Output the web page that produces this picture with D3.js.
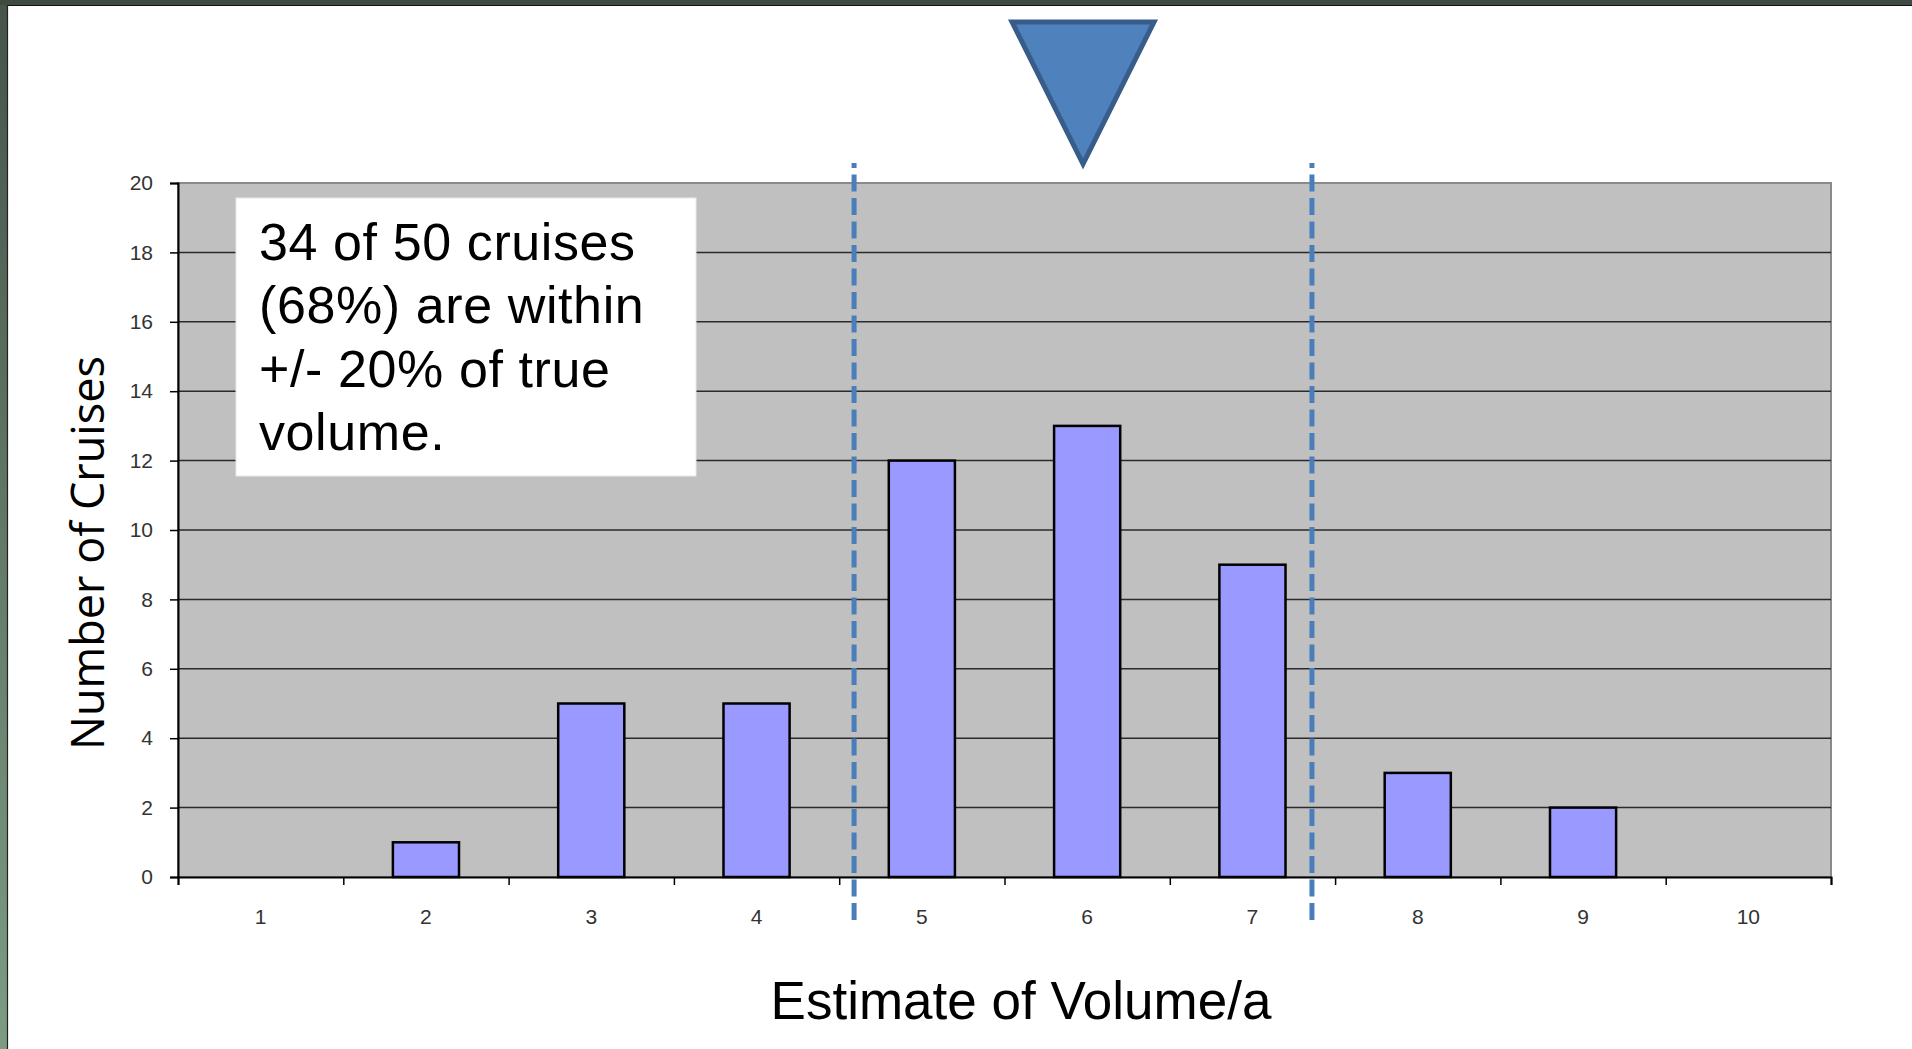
<!DOCTYPE html>
<html>
<head>
<meta charset="utf-8">
<script src="https://cdn.jsdelivr.net/npm/d3@7"></script>
<style>
  html, body { margin: 0; padding: 0; background: #fff; }
  svg { display: block; }
</style>
</head>
<body>
<div id="chart"></div>
<script>
// data
const categories = [1, 2, 3, 4, 5, 6, 7, 8, 9, 10];
const counts = [0, 1, 5, 5, 12, 13, 9, 3, 2, 0];
const yTicks = [0, 2, 4, 6, 8, 10, 12, 14, 16, 18, 20];
const rangeLines = [4.59, 7.36];   // +/- 20% limits, in axis units
const trueValue = 5.975;           // marker triangle
const noteLines = ["34 of 50 cruises", "(68%) are within", "+/- 20% of true", "volume."];

// constants
const width = 1912;
const height = 1049;
const plot = { left: 178, right: 1831, top: 183, bottom: 877 };

const svg = d3.select("#chart")
    .append("svg")
    .attr("width", width)
    .attr("height", height);

// slide frame
const defs = svg.append("defs");
const grad = defs.append("linearGradient")
    .attr("id", "leftband")
    .attr("x1", 0).attr("y1", 0).attr("x2", 0).attr("y2", 1);
grad.append("stop").attr("offset", "0%").attr("stop-color", "#46544a");
grad.append("stop").attr("offset", "100%").attr("stop-color", "#7d9c84");

svg.append("rect").attr("x", 0).attr("y", 0).attr("width", 8).attr("height", height)
    .attr("fill", "url(#leftband)");
svg.append("rect").attr("x", 0).attr("y", 0).attr("width", width).attr("height", 5)
    .attr("fill", "#3f4b41");
svg.append("line").attr("x1", 8).attr("x2", width).attr("y1", 5.5).attr("y2", 5.5)
    .attr("stroke", "#111").attr("stroke-width", 1.2);
svg.append("line").attr("x1", 7.5).attr("x2", 7.5).attr("y1", 5).attr("y2", height)
    .attr("stroke", "#222").attr("stroke-width", 1.2);

// scales
const xBand = d3.scaleBand()
    .domain(categories)
    .range([plot.left, plot.right])
    .paddingInner(0.6)
    .paddingOuter(0.3);

const xLin = d3.scaleLinear()
    .domain([0.5, 10.5])
    .range([plot.left, plot.right]);

const y = d3.scaleLinear()
    .domain([0, 20])
    .range([plot.bottom, plot.top]);

// plot area
svg.append("rect")
    .attr("x", plot.left).attr("y", plot.top)
    .attr("width", plot.right - plot.left).attr("height", plot.bottom - plot.top)
    .attr("fill", "#c0c0c0")
    .attr("stroke", "#8a8a8a")
    .attr("stroke-width", 2);

// gridlines
svg.append("g")
    .selectAll("line")
    .data(yTicks.filter(d => d > 0 && d < 20))
    .enter().append("line")
    .attr("x1", plot.left).attr("x2", plot.right)
    .attr("y1", d => y(d)).attr("y2", d => y(d))
    .attr("stroke", "#2a2a2a")
    .attr("stroke-width", 1.5);

// bars
svg.append("g")
    .selectAll("rect")
    .data(counts.map((c, i) => ({ cat: categories[i], count: c })).filter(d => d.count > 0))
    .enter().append("rect")
    .attr("x", d => xBand(d.cat))
    .attr("y", d => y(d.count))
    .attr("width", xBand.bandwidth())
    .attr("height", d => y(0) - y(d.count))
    .attr("fill", "#9999ff")
    .attr("stroke", "#000")
    .attr("stroke-width", 2.5);

// y axis
const yAxis = svg.append("g")
    .attr("transform", `translate(${plot.left},0)`)
    .call(d3.axisLeft(y).tickValues(yTicks).tickSize(8).tickPadding(17).tickFormat(d3.format("d")));
yAxis.select(".domain").attr("stroke", "#000").attr("stroke-width", 2);
yAxis.selectAll(".tick line").attr("stroke", "#000").attr("stroke-width", 1.5);
yAxis.selectAll(".tick text")
    .attr("font-family", "'Liberation Sans', Arial, sans-serif")
    .attr("font-size", 21)
    .attr("fill", "#333");

// x axis: ticks at category boundaries
const xAxis = svg.append("g")
    .attr("transform", `translate(0,${plot.bottom})`)
    .call(d3.axisBottom(xLin).tickValues(d3.range(0.5, 11, 1)).tickSize(8).tickFormat(""));
xAxis.select(".domain").attr("stroke", "#000").attr("stroke-width", 2);
xAxis.selectAll(".tick line").attr("stroke", "#000").attr("stroke-width", 1.5);

// x labels at category centers
const xLabels = svg.append("g")
    .attr("transform", `translate(0,${plot.bottom})`)
    .call(d3.axisBottom(xBand).tickSize(0).tickPadding(32));
xLabels.select(".domain").remove();
xLabels.selectAll(".tick text")
    .attr("font-family", "'Liberation Sans', Arial, sans-serif")
    .attr("font-size", 21)
    .attr("fill", "#333");

// dashed range lines
svg.append("g")
    .selectAll("line")
    .data(rangeLines)
    .enter().append("line")
    .attr("x1", d => xLin(d)).attr("x2", d => xLin(d))
    .attr("y1", 163).attr("y2", 921)
    .attr("stroke", "#4a7ebb")
    .attr("stroke-width", 5)
    .attr("stroke-dasharray", "17 6.5")
    .attr("stroke-dashoffset", 12);

// marker triangle
const tx = xLin(trueValue);
svg.append("path")
    .attr("d", `M${tx - 71},22 L${tx + 71},22 L${tx},164 Z`)
    .attr("fill", "#4f81bd")
    .attr("stroke", "#385d8a")
    .attr("stroke-width", 5)
    .attr("stroke-linejoin", "miter");

// note box
const note = svg.append("g");
note.append("rect")
    .attr("x", 236).attr("y", 198)
    .attr("width", 460).attr("height", 278)
    .attr("fill", "#fff")
    .attr("stroke", "#e8e8e8")
    .attr("stroke-width", 1);
note.selectAll("text")
    .data(noteLines)
    .enter().append("text")
    .attr("x", 259)
    .attr("y", (d, i) => 260 + i * 63.3)
    .attr("font-family", "'Liberation Sans', Arial, sans-serif")
    .attr("font-size", 52)
    .attr("letter-spacing", 0.6)
    .attr("fill", "#000")
    .text(d => d);

// axis titles
svg.append("text")
    .attr("x", 1021)
    .attr("y", 1019)
    .attr("text-anchor", "middle")
    .attr("font-family", "'Liberation Sans', Arial, sans-serif")
    .attr("font-size", 53)
    .attr("fill", "#000")
    .text("Estimate of Volume/a");

svg.append("text")
    .attr("transform", "translate(104,553) rotate(-90)")
    .attr("text-anchor", "middle")
    .attr("font-family", "'Open Sans', 'Noto Sans', sans-serif")
    .attr("font-size", 45)
    .attr("fill", "#000")
    .text("Number of Cruises");
</script>
</body>
</html>
